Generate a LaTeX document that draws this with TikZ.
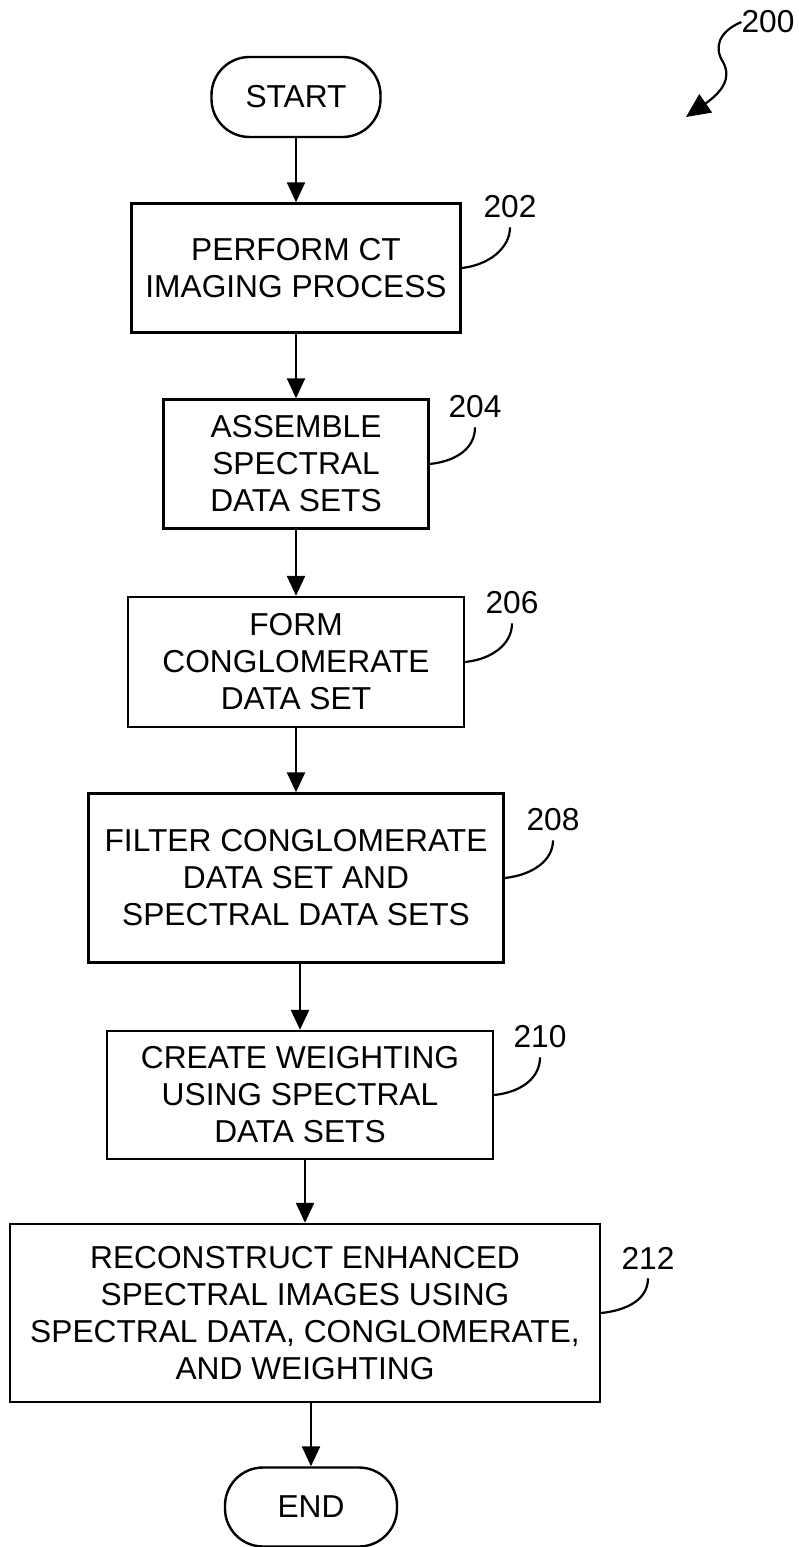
\documentclass[tikz,border=0pt]{standalone}
\usepackage{fontspec}
\setmainfont{Liberation Sans}
\usetikzlibrary{arrows.meta}

\tikzset{
  stepbox/.style={draw, line width=2.4pt, align=center, inner sep=0pt,
    font=\fontsize{31.7pt}{37pt}\selectfont},
  pill/.style={stepbox, rounded corners=38pt},
  arr/.style={-{Triangle[length=20pt,width=18pt]}, line width=2.4pt},
  refnum/.style={inner xsep=0pt, inner ysep=9pt, font=\fontsize{31.7pt}{37pt}\selectfont},
  leader/.style={line width=2.2pt}
}

\begin{document}
\begin{tikzpicture}[x=1pt,y=-1pt]
\useasboundingbox (0,0) rectangle (798,1547);

\node[pill, minimum width=169pt, minimum height=80pt] (start) at (296,97) {START};
\node[stepbox, minimum width=329pt, minimum height=129pt] (b202) at (296,268) {PERFORM CT\\IMAGING PROCESS};
\node[stepbox, minimum width=265pt, minimum height=129pt] (b204) at (296,464) {ASSEMBLE\\SPECTRAL\\DATA SETS};
\node[stepbox, minimum width=336pt, minimum height=130pt] (b206) at (296,662) {FORM\\CONGLOMERATE\\DATA SET};
\node[stepbox, minimum width=415pt, minimum height=169pt] (b208) at (296,878) {FILTER CONGLOMERATE\\DATA SET AND\\SPECTRAL DATA SETS};
\node[stepbox, minimum width=386pt, minimum height=128pt] (b210) at (300,1095) {CREATE WEIGHTING\\USING SPECTRAL\\DATA SETS};
\node[stepbox, minimum width=590pt, minimum height=178pt] (b212) at (305,1313) {RECONSTRUCT ENHANCED\\SPECTRAL IMAGES USING\\SPECTRAL DATA, CONGLOMERATE,\\AND WEIGHTING};
\node[pill, minimum width=172pt, minimum height=79pt] (end) at (311,1507) {END};

\draw[arr] (b202.north |- start.south) -- (b202.north);
\draw[arr] (b204.north |- b202.south) -- (b204.north);
\draw[arr] (b206.north |- b204.south) -- (b206.north);
\draw[arr] (b208.north |- b206.south) -- (b208.north);
\draw[arr] (b210.north |- b208.south) -- (b210.north);
\draw[arr] (b212.north |- b210.south) -- (b212.north);
\draw[arr] (end.north |- b212.south) -- (end.north);

\node[refnum] (l200) at (768,22) {200};
\node[refnum] (l202) at (510,207) {202};
\node[refnum] (l204) at (475,407) {204};
\node[refnum] (l206) at (512,603) {206};
\node[refnum] (l208) at (553,820) {208};
\node[refnum] (l210) at (540,1037) {210};
\node[refnum] (l212) at (648,1258) {212};

\draw[leader] (b202.east) .. controls +(28,-3) and +(0,20) .. (l202.south);
\draw[leader] (b204.east) .. controls +(28,-3) and +(0,20) .. (l204.south);
\draw[leader] (b206.east) .. controls +(28,-3) and +(0,20) .. (l206.south);
\draw[leader] (b208.east) .. controls +(28,-3) and +(0,20) .. (l208.south);
\draw[leader] (b210.east) .. controls +(28,-3) and +(0,20) .. (l210.south);
\draw[leader] (b212.east) .. controls +(28,-3) and +(0,20) .. (l212.south);

\coordinate (tip200) at (686,117);
\draw[leader, -{Triangle[length=24pt,width=22pt]}] (l200.west) .. controls (718,32) and (714,48) .. (723,62) .. controls (732,78) and (722,92) .. (tip200);

\end{tikzpicture}
\end{document}
